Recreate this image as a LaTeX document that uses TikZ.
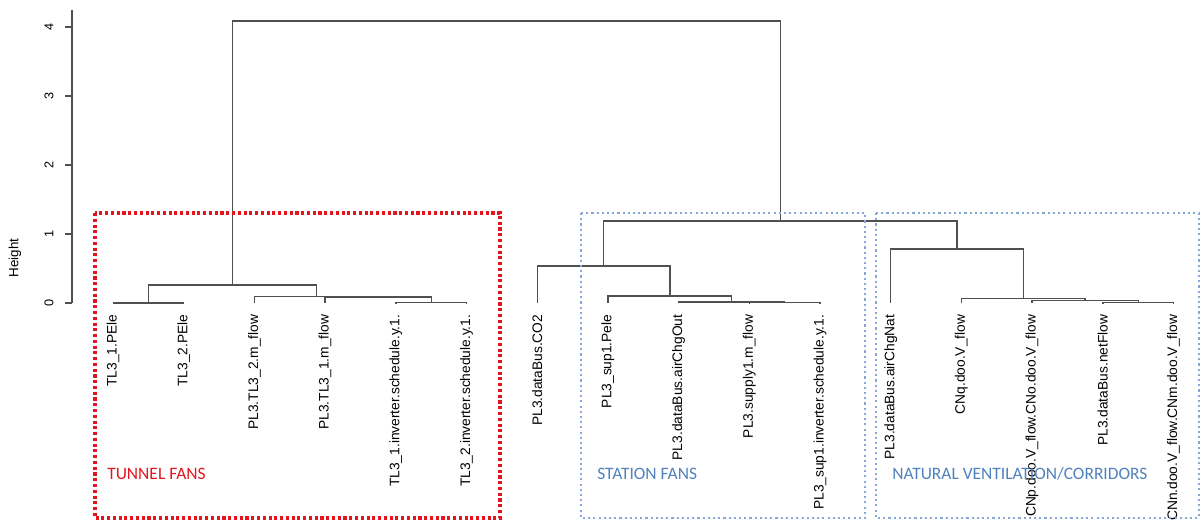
\documentclass[tikz,border=0pt]{standalone}
\usepackage{fontspec}
\setmainfont{Liberation Sans}
\newfontfamily\calibri{Carlito}
\usepackage{xcolor}
\definecolor{fanred}{RGB}{228,20,30}
\definecolor{dotblue}{RGB}{135,168,215}
\definecolor{labblue}{RGB}{79,129,189}
\definecolor{treegray}{RGB}{80,80,80}
\usepackage{tikz}
\usetikzlibrary{positioning,calc}

\begin{document}
\begin{tikzpicture}[x=0.025cm,y=-0.025cm]
  \tikzstyle{branch}=[draw=treegray,line width=1pt]
  \tikzstyle{leaflab}=[rotate=90,anchor=east,inner sep=1pt,font=\fontsize{9.8}{11}\selectfont]
  \tikzstyle{ticklab}=[rotate=90,inner sep=0pt,font=\fontsize{9}{11}\selectfont]
  \tikzstyle{redbox}=[draw=fanred,line width=2.2pt,dash pattern=on 2.2pt off 1.9pt]
  \tikzstyle{bluebox}=[draw=dotblue,line width=1.6pt,dash pattern=on 1.5pt off 2.2pt]
  \tikzstyle{grouplab}=[anchor=west,inner sep=0pt,font=\calibri\fontsize{12.4}{14}\selectfont]

  \useasboundingbox (0,0) rectangle (1202,531);

  % axis
  \draw[branch] (72,10) -- (72,303);
  \foreach \h in {0,...,4}{
    \draw[branch] (65,303-69*\h) -- (72,303-69*\h);
    \node[ticklab] (tick\h) at (49,303-69*\h) {\h};
  }
  \node[ticklab,font=\fontsize{9.5}{11}\selectfont] (ylab) at (15,258) {Height};

  % leaves
  \coordinate (l1) at (113.0,303);  \coordinate (l2) at (183.7,303);
  \coordinate (l3) at (254.4,303);  \coordinate (l4) at (325.1,303);
  \coordinate (l5) at (395.8,303);  \coordinate (l6) at (466.5,303);
  \coordinate (l7) at (537.2,303);  \coordinate (l8) at (607.9,303);
  \coordinate (l9) at (678.6,303);  \coordinate (l10) at (749.3,303);
  \coordinate (l11) at (820.0,303); \coordinate (l12) at (890.7,303);
  \coordinate (l13) at (961.4,303); \coordinate (l14) at (1032.1,303);
  \coordinate (l15) at (1102.8,303); \coordinate (l16) at (1173.5,303);

  \node[leaflab] (lab1) at ($(l1)+(0,10)$) {TL3\_1.PEle};
  \node[leaflab] (lab2) at ($(l2)+(0,10)$) {TL3\_2.PEle};
  \node[leaflab] (lab3) at ($(l3)+(0,10)$) {PL3.TL3\_2.m\_flow};
  \node[leaflab] (lab4) at ($(l4)+(0,10)$) {PL3.TL3\_1.m\_flow};
  \node[leaflab] (lab5) at ($(l5)+(0,10)$) {TL3\_1.inverter.schedule.y.1.};
  \node[leaflab] (lab6) at ($(l6)+(0,10)$) {TL3\_2.inverter.schedule.y.1.};
  \node[leaflab] (lab7) at ($(l7)+(0,10)$) {PL3.dataBus.CO2};
  \node[leaflab] (lab8) at ($(l8)+(0,10)$) {PL3\_sup1.Pele};
  \node[leaflab] (lab9) at ($(l9)+(0,10)$) {PL3.dataBus.airChgOut};
  \node[leaflab] (lab10) at ($(l10)+(0,10)$) {PL3.supply1.m\_flow};
  \node[leaflab] (lab11) at ($(l11)+(0,10)$) {PL3\_sup1.inverter.schedule.y.1.};
  \node[leaflab] (lab12) at ($(l12)+(0,10)$) {PL3.dataBus.airChgNat};
  \node[leaflab] (lab13) at ($(l13)+(0,10)$) {CNq.doo.V\_flow};
  \node[leaflab] (lab14) at ($(l14)+(0,10)$) {CNp.doo.V\_flow.CNo.doo.V\_flow};
  \node[leaflab] (lab15) at ($(l15)+(0,10)$) {PL3.dataBus.netFlow};
  \node[leaflab] (lab16) at ($(l16)+(0,10)$) {CNn.doo.V\_flow.CNm.doo.V\_flow};

  % merges
  \coordinate (m12) at (148.4,303);
  \coordinate (m56) at (431.2,302.5);
  \coordinate (m456) at (378.1,297.1);
  \coordinate (m3456) at (316.3,296.4);
  \coordinate (mtun) at (232.3,285);
  \coordinate (m1011) at (784.7,302.7);
  \coordinate (m91011) at (731.6,302.2);
  \coordinate (m8) at (669.8,296);
  \coordinate (m7) at (603.5,266);
  \coordinate (m1516) at (1138.2,302.7);
  \coordinate (m14) at (1085.1,300.5);
  \coordinate (m13) at (1023.3,298.5);
  \coordinate (mnat) at (957.0,249);
  \coordinate (mright) at (780.3,221);
  \coordinate (mroot) at (506.3,21);

  \draw[branch] (l1) |- (m12) -| (l2);
  \draw[branch] (l5) |- (m56) -| (l6);
  \draw[branch] (l4) |- (m456) -| (m56);
  \draw[branch] (l3) |- (m3456) -| (m456);
  \draw[branch] (m12) |- (mtun) -| (m3456);
  \draw[branch] (l10) |- (m1011) -| (l11);
  \draw[branch] (l9) |- (m91011) -| (m1011);
  \draw[branch] (l8) |- (m8) -| (m91011);
  \draw[branch] (l7) |- (m7) -| (m8);
  \draw[branch] (l15) |- (m1516) -| (l16);
  \draw[branch] (l14) |- (m14) -| (m1516);
  \draw[branch] (l13) |- (m13) -| (m14);
  \draw[branch] (l12) |- (mnat) -| (m13);
  \draw[branch] (m7) |- (mright) -| (mnat);
  \draw[branch] (mtun) |- (mroot) -| (mright);

  % groups
  \draw[redbox] (95,213) rectangle (500,518);
  \draw[bluebox] (581,213) rectangle (865,518);
  \draw[bluebox] (876,213) rectangle (1199,518);
  \node[grouplab,text=fanred] (tunnel) at (107,474) {TUNNEL FANS};
  \node[grouplab,text=labblue] (station) at (597,474) {STATION FANS};
  \node[grouplab,text=labblue] (natural) at (892,474) {NATURAL VENTILATION/CORRIDORS};
\end{tikzpicture}
\end{document}
